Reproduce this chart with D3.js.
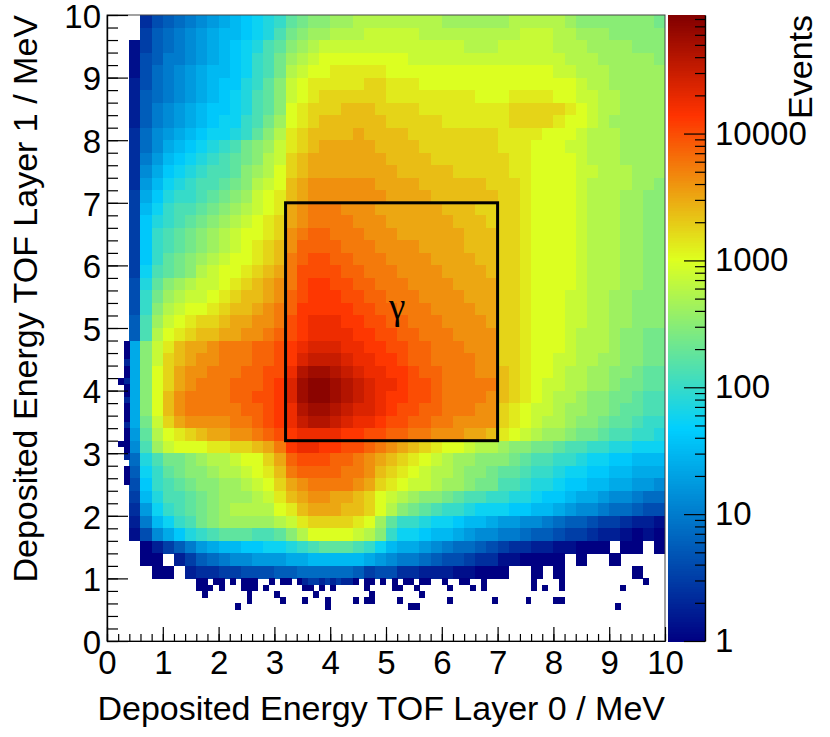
<!DOCTYPE html>
<html>
<head>
<meta charset="utf-8">
<title>TOF Layer 0 vs Layer 1</title>
<script src="https://d3js.org/d3.v7.min.js"></script>
<style>
  body { margin: 0; background: #fff; }
  text { font-family: "Liberation Sans", Arial, Helvetica, sans-serif; }
</style>
</head>
<body>
<svg id="chart"></svg>
<script>
const width = 830;
const height = 737;

// 0.2 MeV bins, one row per string, from y = 10 (top) down to y = 0.
// each char is 8*log10(events) in levelChars, '.' = empty bin
const levelChars = "0123456789abcdefghijklmnopqrstuvwxyzABCD";
const binWidth = 0.2;
const rows = [
  "...35 6789a bcdef gijkk llmmm mmmmm lllll lmmmm mlkkk kkkkj",
  "...46 789ab ccdef hjkll mmmnn nnnmm mmmmm mmnnn mmlll kkkkk",
  "..146 789ab cdefh iklmn nnnnn nnnnn nnmmm nnnnn mmmll llkkk",
  "..156 889ab cdegh jlmno ooooo oonnn nnnnn nnnnn nmmml llllk",
  "..157 89abc cdegh jmnoo ppppp ooooo ooooo ooooo nnmmm lllll",
  "..257 89abc ddfgi knopp pppqq pppoo ooooo ooooo oonmm lllll",
  "..267 89abc defhi knopq qqqqq ppppp pppoo opppp oonnm mllll",
  "..268 9abcd defhi kopqq qrrrq qqqpp ppppp pqqqq qponm mllll",
  "..268 9abcd eeghj lopqr rrrrr qqqqq ppppp pqqqq poonm lllll",
  "..379 abcde efgik mpqrr rrsrr rrqqq qqqqq ppppo oonmm mllll",
  "..379 bcdef ghjkl npqrs ssssr rrrqq qqqqq pppoo onnmm mllll",
  "..38a cdefg hijkm nqrss sssss rrrrq qqqqq qppoo oonmm mllll",
  "..39b defgh hiklm oqrss sssss srrrr rqqqq qppoo oonnm mmlll",
  "..3ac efghh ijkmn orstt tttts sssrr rrrrq qqpoo oonmm mmllk",
  "..4bd fgghi jklno prstt ttttt ssssr rrrrr qqpoo oonmm mllkk",
  "..4ce ghhij klmno pstuu uttts sssss rrrqq qqpoo oonmm mllkk",
  "..4df ghijk lmnop qstuu uuttt sssss srrrq qqpoo oonmm mllkk",
  "..4dg hijkl mnoop qtuvv uuutt tssss ssrrr qqpoo oonmm mllkk",
  "..4dg hijkl mnopq rtvvv vuuut tttss ssrrr qqpoo oonmm mllkk",
  "..4dg ijklm noopq ruvww vvuuu tttts sssrr qqpoo oonmm mllkk",
  "..4eh ijkmn oopqr suwww wvvuu utttt ssssr qqpoo oonmm mllkk",
  "..5fi klmnn opqrs tuwxx wwvvu uuttt tssss qqpoo oonmm mllkk",
  "..5gj lmnno pqrrs tvwxx xwwvv uuutt ttsss qqpoo onnmm llkkk",
  "..5gk mnoop qrrst uvxxx xxwwv vuuut tttss qqpoo onnmm llkkk",
  "..6hl nopqq rsstt uwxyy yxxww vvuuu tttts qqpoo onnmm llkkk",
  "..6hm opqrr ssttu vwxyy yyxxw wvvuu utttt qqpoo onmmm lkkjj",
  "..bkn prsst uuuvv wxyzz zyyxx wwvvu uuttt qqpoo onmmm lkkjj",
  "..bkn qrstt uuuvv wxzAA Azyyx xwvvu uuutt qqpoo nnmml lkkjj",
  "..bko qsttu uuvvw wyBCC BAzyy xxwvv uuutt rqpoo nmmll kkjii",
  "..bko qstuu uvvvw xzCDD CBAzy yxwwv uuuuu rqpon nmmll kjjii",
  "..bko rtuuu uvvww xzCDD CBAzy xxwwv uuuut rqpon mmlkk jjihh",
  "..bko rtuuu uuvvw xyBCC BAzzy xwwvv uuutt qponn mllkk jiihh",
  "..bjn qsttt tuuvw xyABB Azyyx wwvvu utttt qponm mlkkj iihgg",
  "..aim opqrs sttuv wxyyy yxxww vvuut ttssr ponml lkjji hhggf",
  "..9hl nooop pqqrs uxyyx xwwvu tsrqp oonmm lkkjj ihhgg ffeee",
  "..7fh jjklm mnooq svwww vvuts rqpon mllkk kjihh ggfee ddccc",
  "..6eg ijkkl mmnop ruvvv vuutr qponm mlkkj iihgg feedd ccbbb",
  "..5dg hijkk llmno qstuu uutsq ponnm llkjj hhgff eddcc bbaa9",
  "..4cf hhijk lllmn prstt ssrqo nmlkk jihhg gffed dcbba 99877",
  "..3ae ghijk lmmmm oprss srrqo mkjih ggfee eddcc ba998 77655",
  "..28c eghjk lllll mnpqq qqpol iggfe edccb aa998 76654 43221",
  "..159 bdfgh iiihh ikmoo oonmk geedc cba99 88766 54432 21010",
  "...02 468ab ccdde efghi iihge cbba9 87765 43322 11000 .00.0",
  "...00 .2467 899aa abbcc cccba 98876 55433 11000 0.0.. 0....",
  "....0 0.233 44555 66777 77645 53322 21100 0..0. 0.... ..0..",
  "..... ..... ..... ..... ..... ..... ..... ..... ..... .....",
  "..... ..... ..... ..... ..... ..... ..... ..... ..... .....",
  "..... ..... ..... ..... ..... ..... ..... ..... ..... .....",
  "..... ..... ..... ..... ..... ..... ..... ..... ..... .....",
  "..... ..... ..... ..... ..... ..... ..... ..... ..... ....."
];

// isolated 0.1 MeV bins at the edges of the dense region: [x, y, events]
const sparseBins = [
  // left edge column
  [0.3,4.7,1],[0.3,4.6,1],[0.3,4.5,1],[0.3,4.4,2],[0.3,4.3,1],[0.3,4.2,1],[0.3,4.1,2],[0.3,4.0,1],
  [0.3,3.9,1],[0.3,3.8,2],[0.3,3.7,1],[0.3,3.6,1],[0.3,3.5,1],[0.3,3.4,2],[0.3,3.3,1],[0.3,3.2,1],
  [0.3,3.1,1],[0.3,3.0,1],[0.3,2.9,2],[0.3,2.7,1],[0.3,2.6,1],[0.3,2.5,1],[0.2,3.1,1],[0.2,4.1,1],
  // bottom edge
  [1.6,0.9,1],[1.7,0.9,1],[1.9,0.9,1],[2.0,0.9,1],[2.2,0.9,1],[2.4,0.9,1],[2.5,0.9,1],[2.6,0.9,1],
  [2.9,0.9,1],[3.1,0.9,1],[3.2,0.9,1],[3.4,0.9,1],[3.5,0.9,2],[3.6,0.9,3],[3.7,0.9,3],[3.8,0.9,2],
  [3.9,0.9,3],[4.0,0.9,2],[4.1,0.9,3],[4.2,0.9,2],[4.3,0.9,2],[4.4,0.9,1],[4.6,0.9,1],[4.7,0.9,1],
  [4.9,0.9,1],[5.1,0.9,1],[5.3,0.9,1],[5.4,0.9,1],[5.6,0.9,1],[5.7,0.9,1],[6.0,0.9,1],[6.3,0.9,1],
  [6.4,0.9,1],[6.7,0.9,1],[7.6,0.9,1],[8.1,0.9,1],[9.6,0.9,1],
  [1.6,0.8,1],[1.7,0.8,1],[1.8,0.8,1],[2.0,0.8,1],[2.4,0.8,1],[2.5,0.8,1],[2.6,0.8,1],[2.8,0.8,1],
  [3.5,0.8,1],[3.6,0.8,1],[3.8,0.8,1],[4.0,0.8,1],[4.6,0.8,1],[5.1,0.8,1],[5.2,0.8,1],[5.5,0.8,1],
  [6.1,0.8,1],[6.5,0.8,1],[6.7,0.8,1],[7.6,0.8,1],[7.8,0.8,1],[8.1,0.8,1],[9.2,0.8,1],
  [1.7,0.7,1],[2.5,0.7,1],[3.0,0.7,1],[3.7,0.7,1],[4.7,0.7,1],[5.6,0.7,1],
  [2.5,0.6,1],[3.1,0.6,1],[3.5,0.6,1],[3.9,0.6,1],[4.4,0.6,1],[4.6,0.6,1],[4.7,0.6,1],[5.2,0.6,1],
  [6.1,0.6,1],[6.9,0.6,1],[7.5,0.6,1],[8.0,0.6,1],[8.1,0.6,1],
  [2.3,0.5,1],[3.9,0.5,1],[5.4,0.5,1],[5.5,0.5,1],[9.1,0.5,1]
];

const zMax = 86000;
const zTicks = [1, 10, 100, 1000, 10000];
const paletteStops = [0, 0.34, 0.61, 0.84, 1];
const paletteColors = ["#000082", "#00cfff", "#deff1f", "#ff3300", "#820000"];

// gamma selection window, MeV: [x0, x1, y0, y1]
const cutBox = [3.2, 7.0, 3.2, 7.0];
const cutLabel = { text: "γ", x: 5.2, y: 5.2 };

const xTitle = "Deposited Energy TOF Layer 0 / MeV";
const yTitle = "Deposited Energy TOF Layer 1 / MeV";
const zTitle = "Events";

const svg = d3.select('#chart')
  .attr('width', width)
  .attr('height', height)
  .style('display', 'block');

const xScale = d3.scaleLinear().domain([0, 10]).range([107, 665]);
const yScale = d3.scaleLinear().domain([0, 10]).range([641, 15]);
const zScale = d3.scaleLog().domain([1, zMax]).range([641, 15]);
const logMax = Math.log10(zMax);
const color = d3.scaleLinear()
  .domain(paletteStops.map(t => t * logMax))
  .range(paletteColors)
  .clamp(true);

// build bins
const cells = [];
rows.forEach((row, r) => {
  row.replace(/ /g, '').split('').forEach((ch, c) => {
    const k = levelChars.indexOf(ch);
    if (k < 0) return;
    cells.push({ x: c * binWidth, y: 10 - (r + 1) * binWidth, w: binWidth, events: Math.pow(10, k / 8) });
  });
});
sparseBins.forEach(([x, y, n]) => cells.push({ x: x, y: y, w: 0.1, events: n }));

svg.append('g')
  .selectAll('rect')
  .data(cells)
  .join('rect')
  .attr('x', d => xScale(d.x))
  .attr('y', d => yScale(d.y + d.w))
  .attr('width', d => xScale(d.x + d.w) - xScale(d.x) + 0.4)
  .attr('height', d => yScale(d.y) - yScale(d.y + d.w) + 0.4)
  .attr('fill', d => color(Math.log10(d.events)))
  .attr('shape-rendering', 'crispEdges');

// frame
svg.append('rect')
  .attr('x', xScale(0)).attr('y', yScale(10))
  .attr('width', xScale(10) - xScale(0))
  .attr('height', yScale(0) - yScale(10))
  .attr('fill', 'none')
  .attr('stroke', '#444')
  .attr('stroke-width', 1);

// selection box and label
svg.append('rect')
  .attr('x', xScale(cutBox[0]))
  .attr('y', yScale(cutBox[3]))
  .attr('width', xScale(cutBox[1]) - xScale(cutBox[0]))
  .attr('height', yScale(cutBox[2]) - yScale(cutBox[3]))
  .attr('fill', 'none')
  .attr('stroke', '#000')
  .attr('stroke-width', 3);

svg.append('text')
  .attr('x', xScale(cutLabel.x))
  .attr('y', yScale(cutLabel.y) + 4)
  .attr('text-anchor', 'middle')
  .style('font-family', '"Liberation Serif", "DejaVu Serif", serif')
  .style('font-size', '37px')
  .text(cutLabel.text);

// axes
const fontSize = 33;
const minorX = d3.range(51).map(i => i / 5);
const majorX = d3.range(11);

function styleAxis(g) {
  g.attr('font-size', fontSize)
    .attr('font-family', '"Liberation Sans", Arial, sans-serif');
  g.selectAll('path, line').attr('stroke', '#000').attr('stroke-width', 1.2);
  g.selectAll('text').attr('fill', '#000');
}

svg.append('g')
  .attr('transform', `translate(0,${yScale(0)})`)
  .call(d3.axisBottom(xScale).tickValues(minorX).tickSize(-7).tickSizeOuter(0).tickFormat(''))
  .call(styleAxis);
svg.append('g')
  .attr('transform', `translate(0,${yScale(0)})`)
  .call(d3.axisBottom(xScale).tickValues(majorX).tickSize(-14).tickSizeOuter(0).tickPadding(10).tickFormat(d3.format('d')))
  .call(styleAxis);

svg.append('g')
  .attr('transform', `translate(${xScale(0)},0)`)
  .call(d3.axisLeft(yScale).tickValues(minorX).tickSize(-11).tickSizeOuter(0).tickFormat(''))
  .call(styleAxis);
svg.append('g')
  .attr('transform', `translate(${xScale(0)},0)`)
  .call(d3.axisLeft(yScale).tickValues(majorX).tickSize(-21).tickSizeOuter(0).tickPadding(6).tickFormat(d3.format('d')))
  .call(styleAxis)
  .call(g => g.selectAll('text').attr('dy', '0.37em'));

// colour bar
const barX = 667.5;
const barW = 37.5;
const nSteps = 250;
svg.append('g')
  .selectAll('rect')
  .data(d3.range(nSteps))
  .join('rect')
  .attr('x', barX)
  .attr('width', barW)
  .attr('y', i => zScale(Math.pow(10, (i + 1) / nSteps * logMax)))
  .attr('height', i => zScale(Math.pow(10, i / nSteps * logMax)) - zScale(Math.pow(10, (i + 1) / nSteps * logMax)) + 0.6)
  .attr('fill', i => color((i + 0.5) / nSteps * logMax))
  .attr('shape-rendering', 'crispEdges');

const zMinor = [];
zTicks.forEach(d => d3.range(2, 10).forEach(m => { if (d * m <= zMax) zMinor.push(d * m); }));

svg.append('g')
  .attr('transform', `translate(${barX + barW},0)`)
  .call(d3.axisRight(zScale).tickValues(zMinor).tickSize(-10).tickSizeOuter(0).tickFormat(''))
  .call(styleAxis);
svg.append('g')
  .attr('transform', `translate(${barX + barW},0)`)
  .call(d3.axisRight(zScale).tickValues(zTicks).tickSize(-21).tickSizeOuter(0).tickPadding(10).tickFormat(d3.format('d')))
  .call(styleAxis);

// titles
svg.append('text')
  .attr('x', xScale(10))
  .attr('y', 720)
  .attr('text-anchor', 'end')
  .style('font-size', '34px')
  .text(xTitle);

svg.append('text')
  .attr('transform', `translate(37,${yScale(10)}) rotate(-90)`)
  .attr('text-anchor', 'end')
  .style('font-size', '34px')
  .text(yTitle);

svg.append('text')
  .attr('transform', `translate(812,${yScale(10)}) rotate(-90)`)
  .attr('text-anchor', 'end')
  .style('font-size', '34px')
  .text(zTitle);
</script>
</body>
</html>
